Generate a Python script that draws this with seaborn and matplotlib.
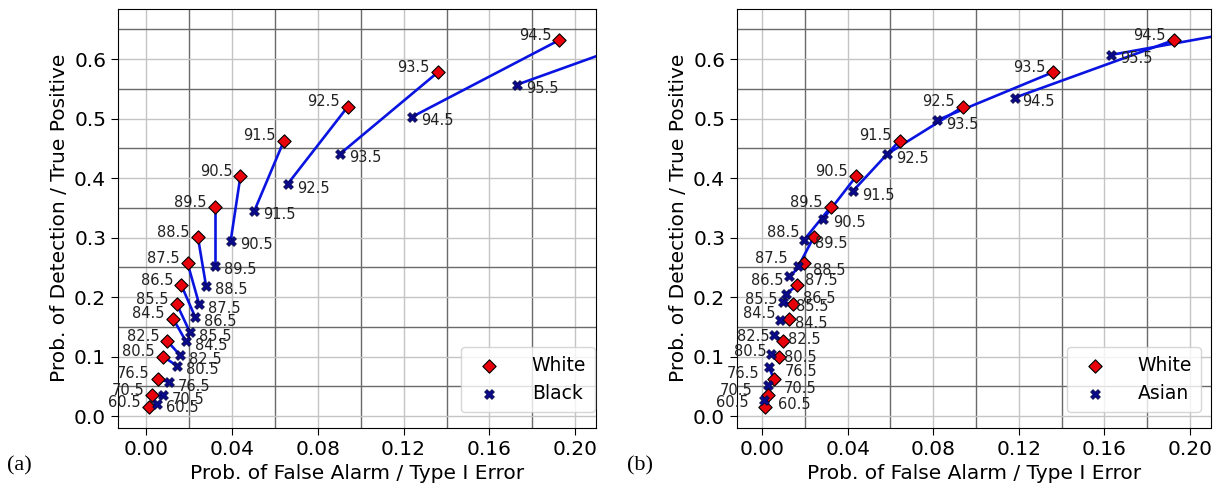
import numpy as np
import pandas as pd
import matplotlib.pyplot as plt
import seaborn as sns
from matplotlib.ticker import MultipleLocator

plt.rcParams['font.family'] = ['DejaVu Sans']

# ------------------------------------------------------------
# data (threshold -> false alarm prob., detection prob.)
# ------------------------------------------------------------
thresholds = [60.5, 70.5, 76.5, 80.5, 82.5, 84.5, 85.5, 86.5, 87.5,
              88.5, 89.5, 90.5, 91.5, 92.5, 93.5, 94.5, 95.5]

white_fpr = [0.0013, 0.0030, 0.0055, 0.0080, 0.0100, 0.0126, 0.0144, 0.0165, 0.0194,
             0.0242, 0.0320, 0.0440, 0.0643, 0.0940, 0.1360, 0.1925, 0.2600]
white_tpr = [0.015, 0.035, 0.063, 0.100, 0.126, 0.164, 0.188, 0.220, 0.257,
             0.301, 0.351, 0.403, 0.463, 0.520, 0.578, 0.632, 0.670]

black_fpr = [0.0050, 0.0080, 0.0108, 0.0143, 0.0160, 0.0186, 0.0205, 0.0230, 0.0248,
             0.0280, 0.0320, 0.0395, 0.0505, 0.0660, 0.0905, 0.1240, 0.1728]
black_tpr = [0.021, 0.035, 0.057, 0.085, 0.102, 0.126, 0.141, 0.166, 0.188,
             0.219, 0.253, 0.295, 0.345, 0.390, 0.441, 0.503, 0.557]

asian_fpr = [0.0009, 0.0026, 0.0032, 0.0042, 0.0056, 0.0084, 0.0100, 0.0110, 0.0128,
             0.0170, 0.0196, 0.0287, 0.0424, 0.0583, 0.0816, 0.1180, 0.1630]
asian_tpr = [0.027, 0.053, 0.082, 0.105, 0.136, 0.162, 0.191, 0.205, 0.235,
             0.252, 0.296, 0.332, 0.378, 0.440, 0.497, 0.535, 0.607]

# label offsets in pixels (horizontal distance of text from marker)
a_white_dx = [8] * 17
a_other_dx = [9] * 17
b_white_dx = [16, 16, 14, 13, 14, 14, 15, 14, 16, 14, 8, 8, 8, 8, 8, 8, 8]
b_other_dx = [14, 16, 16, 13, 14, 15, 13, 17, 16, 15, 11, 10, 9, 9, 9, 8, 9]

fig = plt.figure(figsize=(12.19, 4.87), dpi=100)
ax1 = fig.add_axes([0.0968, 0.1211, 0.3923, 0.8614])
ax2 = fig.add_axes([0.6046, 0.1211, 0.3888, 0.8614])


def draw_panel(ax, other_name, other_fpr, other_tpr, white_dx, other_dx, xlim, leg_x):
    n = len(thresholds)
    df = pd.DataFrame({
        'fpr': white_fpr + other_fpr,
        'tpr': white_tpr + other_tpr,
        'group': ['White'] * n + [other_name] * n,
        'thr': thresholds * 2,
    })
    # segment joining the two groups at the same threshold
    sns.lineplot(data=df, x='fpr', y='tpr', units='thr', estimator=None, sort=False,
                 color='#0a14e0', lw=1.9, ax=ax, legend=False, zorder=2)
    w = df[df.group == 'White']
    o = df[df.group == other_name]
    sns.scatterplot(data=w, x='fpr', y='tpr', marker='D', color='#e8000b', edgecolor='black',
                    linewidth=0.8, s=46, label='White', ax=ax, zorder=3)
    sns.scatterplot(data=o, x='fpr', y='tpr', marker='X', color='#0a0a8a', edgecolor='#000040',
                    linewidth=0.5, s=50, label=other_name, ax=ax, zorder=3)

    for t, x, y, dx in zip(thresholds, white_fpr, white_tpr, white_dx):
        ax.annotate(f'{t}', (x, y), xytext=(-dx, 5), textcoords='offset pixels',
                    ha='right', va='center', fontsize=10.5, color='#222222')
    for t, x, y, dx in zip(thresholds, other_fpr, other_tpr, other_dx):
        ax.annotate(f'{t}', (x, y), xytext=(dx, -4), textcoords='offset pixels',
                    ha='left', va='center', fontsize=10.5, color='#222222')

    ax.set_xlim(*xlim)
    ax.set_ylim(-0.02, 0.685)
    ax.xaxis.set_major_locator(MultipleLocator(0.04))
    ax.xaxis.set_minor_locator(MultipleLocator(0.02))
    ax.yaxis.set_major_locator(MultipleLocator(0.1))
    ax.yaxis.set_minor_locator(MultipleLocator(0.05))
    ax.grid(which='major', color='#c4c4c4', lw=1.0)
    ax.grid(which='minor', color='#6a6a6a', lw=1.0)
    ax.tick_params(which='minor', length=0)
    ax.tick_params(which='major', labelsize=14.5, length=5)
    ax.set_xlabel('Prob. of False Alarm / Type I Error', fontsize=14.5)
    ax.set_ylabel('Prob. of Detection / True Positive', fontsize=14.5)

    handles, labels = ax.get_legend_handles_labels()
    ax.legend(handles, labels, loc='lower right', bbox_to_anchor=(leg_x, 0.039),
              borderaxespad=0, fontsize=13.5, handletextpad=1.3, borderpad=0.45)


draw_panel(ax1, 'Black', black_fpr, black_tpr, a_white_dx, a_other_dx, (-0.013, 0.2097), 0.9965)
draw_panel(ax2, 'Asian', asian_fpr, asian_tpr, b_white_dx, b_other_dx, (-0.0117, 0.2098), 0.978)

fig.text(0.006, 0.043, '(a)', family='Liberation Serif', fontsize=16, va='center')
fig.text(0.514, 0.043, '(b)', family='Liberation Serif', fontsize=16, va='center')

plt.savefig('out.png', dpi=100)
